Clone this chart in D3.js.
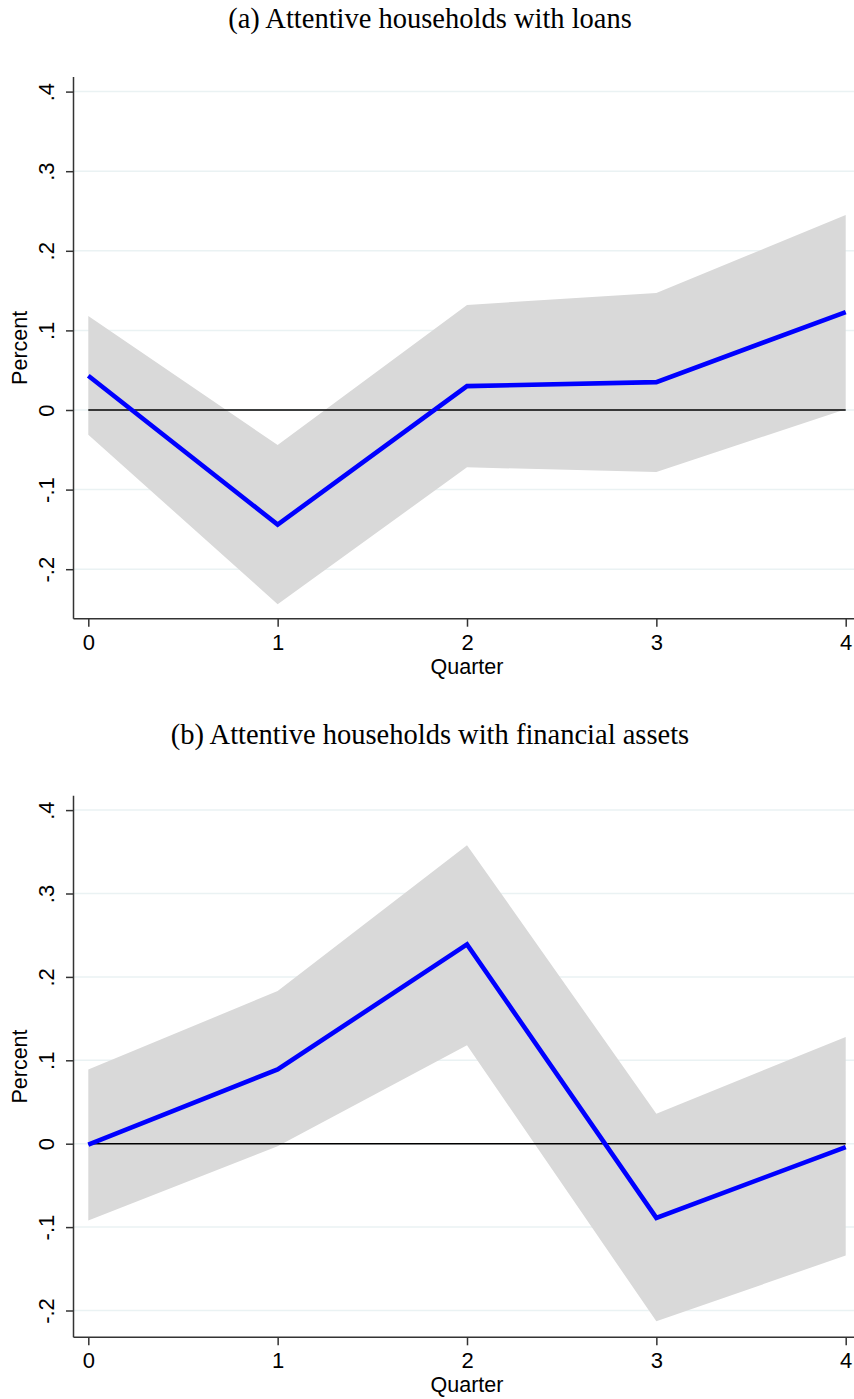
<!DOCTYPE html>
<html>
<head>
<meta charset="utf-8">
<script src="https://cdn.jsdelivr.net/npm/d3@7"></script>
<style>
  html, body { margin: 0; padding: 0; background: #fff; }
  svg { display: block; }
</style>
</head>
<body>
<svg id="chart" width="854" height="1399"></svg>
<script>
// Impulse responses by quarter with confidence bands
const quarters = [0, 1, 2, 3, 4];
const yTicks = [-0.2, -0.1, 0, 0.1, 0.2, 0.3, 0.4];
const yTickLabels = ["-.2", "-.1", "0", ".1", ".2", ".3", ".4"];

const titleA = "(a) Attentive households with loans";
const estA   = [0.043, -0.144, 0.030, 0.035, 0.123];
const upperA = [0.118, -0.044, 0.132, 0.147, 0.245];
const lowerA = [-0.031, -0.244, -0.072, -0.078, 0.001];

const titleB = "(b) Attentive households with financial assets";
const estB   = [-0.001, 0.089, 0.239, -0.089, -0.004];
const upperB = [0.089, 0.183, 0.358, 0.036, 0.128];
const lowerB = [-0.092, -0.003, 0.118, -0.213, -0.134];

const svg = d3.select("#chart");
const sans = "'Liberation Sans', Arial, Helvetica, sans-serif";
const serif = "'Liberation Serif', 'Times New Roman', serif";

function panel(cfg) {
  const g = svg.append("g");
  const x = d3.scaleLinear().domain([0, 4]).range([88.3, 845.7]);
  const y = d3.scaleLinear().domain([cfg.yMin, cfg.yMax]).range([cfg.bottom, cfg.top]);
  const axisX = 73.5;
  const rightEdge = 854;

  // title
  g.append("text")
    .attr("x", 430).attr("y", cfg.titleY)
    .attr("text-anchor", "middle")
    .attr("font-family", serif).attr("font-size", 28.5)
    .attr("fill", "#000")
    .text(cfg.title);

  // gridlines
  g.selectAll("line.grid").data(yTicks).join("line")
    .attr("class", "grid")
    .attr("x1", axisX).attr("x2", rightEdge)
    .attr("y1", d => y(d)).attr("y2", d => y(d))
    .attr("stroke", "#eaf2f3").attr("stroke-width", 1.5);

  // confidence band
  const area = d3.area()
    .x((d, i) => x(quarters[i]))
    .y0((d, i) => y(cfg.lower[i]))
    .y1((d, i) => y(cfg.upper[i]));
  g.append("path").datum(cfg.est).attr("d", area).attr("fill", "#d9d9d9");

  // zero reference line
  g.append("line")
    .attr("x1", x(0)).attr("x2", x(4))
    .attr("y1", y(0)).attr("y2", y(0))
    .attr("stroke", "#000").attr("stroke-width", 1.6);

  // point estimate
  const line = d3.line().x((d, i) => x(quarters[i])).y(d => y(d));
  g.append("path").datum(cfg.est).attr("d", line)
    .attr("fill", "none").attr("stroke", "#0000ff")
    .attr("stroke-width", 4.6).attr("stroke-linejoin", "miter");

  // y axis
  const yAxis = d3.axisLeft(y).tickValues(yTicks)
    .tickFormat((d, i) => yTickLabels[i]).tickSize(7.5).tickPadding(0);
  const ya = g.append("g").attr("transform", `translate(${axisX},0)`).call(yAxis);
  ya.select(".domain").attr("d", `M0,${cfg.top}V${cfg.bottom}`)
    .attr("stroke", "#333").attr("stroke-width", 1.5);
  ya.selectAll(".tick line").attr("stroke", "#333").attr("stroke-width", 1.5);
  ya.selectAll(".tick text")
    .attr("font-family", sans).attr("font-size", 22).attr("fill", "#000")
    .attr("text-anchor", "middle")
    .attr("dy", null)
    .attr("x", null)
    .attr("transform", "translate(-20,0) rotate(-90)");

  // x axis
  const xAxis = d3.axisBottom(x).tickValues(quarters)
    .tickFormat(d3.format("d")).tickSize(8).tickPadding(0);
  const xa = g.append("g").attr("transform", `translate(0,${cfg.bottom})`).call(xAxis);
  xa.select(".domain").attr("d", `M${axisX},0H${rightEdge}`)
    .attr("stroke", "#333").attr("stroke-width", 1.5);
  xa.selectAll(".tick line").attr("stroke", "#333").attr("stroke-width", 1.5);
  xa.selectAll(".tick text")
    .attr("font-family", sans).attr("font-size", 22).attr("fill", "#000")
    .attr("dy", null).attr("y", 31);

  // axis titles
  g.append("text")
    .attr("transform", `translate(27,${(cfg.top + cfg.bottom) / 2}) rotate(-90)`)
    .attr("text-anchor", "middle")
    .attr("font-family", sans).attr("font-size", 21.5).attr("fill", "#000")
    .text("Percent");
  g.append("text")
    .attr("x", (88.3 + 845.7) / 2).attr("y", cfg.bottom + 55)
    .attr("text-anchor", "middle")
    .attr("font-family", sans).attr("font-size", 21.5).attr("fill", "#000")
    .text("Quarter");
}

panel({
  title: titleA, titleY: 28,
  est: estA, upper: upperA, lower: lowerA,
  top: 77, bottom: 618.7,
  yMin: (410 - 618.7) / 796, yMax: (410 - 77) / 796
});

panel({
  title: titleB, titleY: 744,
  est: estB, upper: upperB, lower: lowerB,
  top: 795.7, bottom: 1337.3,
  yMin: (1143.7 - 1337.3) / 834, yMax: (1143.7 - 795.7) / 834
});
</script>
</body>
</html>
